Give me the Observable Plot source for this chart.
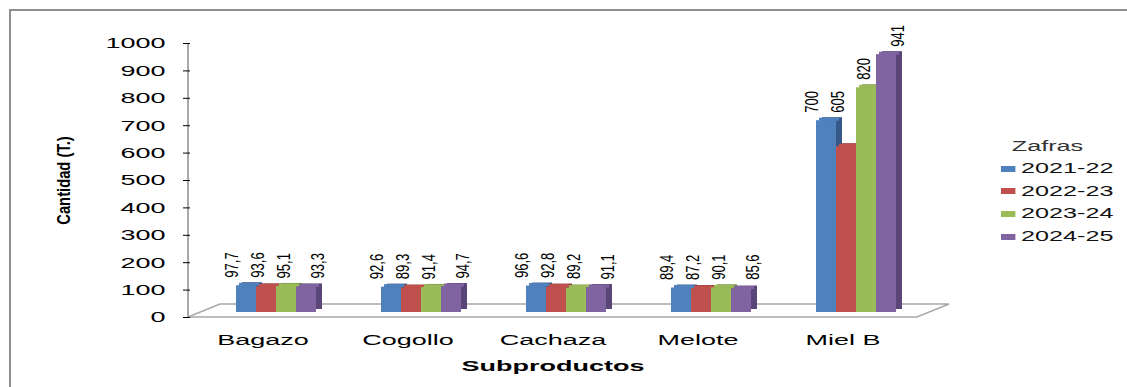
<!DOCTYPE html>
<html>
<head>
<meta charset="utf-8">
<script src="https://cdn.jsdelivr.net/npm/d3@7"></script>
<script src="https://cdn.jsdelivr.net/npm/@observablehq/plot@0.6"></script>
<style>
  html, body { margin: 0; padding: 0; background: #fff; }
  #wrap { position: relative; width: 1127px; height: 387px; overflow: hidden; font-family: "Liberation Sans", Arial, sans-serif; }
  #chart { position: absolute; left: 0; top: 0; }
  #border { position: absolute; left: 9px; top: 9px; right: -5px; bottom: -5px; border-left: 2px solid #8e8e8e; border-top: 2px solid #8e8e8e; pointer-events: none; }
  #legend { position: absolute; left: 1001px; top: 136px; transform: scaleX(1.8); transform-origin: 0 0; font-size: 14px; color: #111; white-space: nowrap; }
  #legend .title { line-height: 21px; padding-left: 6px; color: #333; }
  #legend .row { line-height: 22.7px; }
  #legend .sw { display: inline-block; width: 8.3px; height: 6px; vertical-align: 1.5px; margin-right: 2.8px; }
</style>
</head>
<body>
<div id="wrap">
  <div id="chart"></div>
  <div id="border"></div>
  <div id="legend"></div>
</div>
<script>
// ---- Data ----
const categorias = ["Bagazo", "Cogollo", "Cachaza", "Melote", "Miel B"];
const zafras = ["2021-22", "2022-23", "2023-24", "2024-25"];
const v2021_22 = [97.7, 92.6, 96.6, 89.4, 700];
const v2022_23 = [93.6, 89.3, 92.8, 87.2, 605];
const v2023_24 = [95.1, 91.4, 89.2, 90.1, 820];
const v2024_25 = [93.3, 94.7, 91.1, 85.6, 941];
const yTicks = [0, 100, 200, 300, 400, 500, 600, 700, 800, 900, 1000];
const tituloY = "Cantidad (T.)";
const tituloX = "Subproductos";
const tituloLeyenda = "Zafras";

// ---- Styles ----
const colores = ["#4F81BD", "#C0504D", "#9BBB59", "#8064A2"];
const coloresLado = ["#36598A", "#8E3532", "#6F8A3C", "#5A4578"];
const labelDx = [-14, -8, -2, 12];
const STRETCH = 1.8;     // horizontal text is drawn wide
const baseFont = "'Liberation Sans', Arial, sans-serif";

const series = [v2021_22, v2022_23, v2023_24, v2024_25];
const data = [];
categorias.forEach((c, i) => zafras.forEach((z, j) => data.push({
  cat: c, zafra: z, value: series[j][i],
  // a label sits above its bar, or above the taller bar to its left so it does not collide
  nivel: j > 0 ? Math.max(series[j][i], series[j - 1][i]) : series[j][i]
})));
const fmt = v => Number.isInteger(v) ? String(v) : String(v).replace(".", ",");

const barDx = 13, barDy = -5;

const marks = [];
zafras.forEach((z, j) => {
  marks.push(Plot.barY(data.filter(d => d.zafra === z), {fx: "cat", x: "zafra", y: "value", fill: coloresLado[j], dx: barDx + 6, dy: barDy - 3}));
});
marks.push(Plot.tickY(data, {fx: "cat", x: "zafra", y: "value", stroke: "zafra", strokeWidth: 3, dx: barDx + 3, dy: barDy - 1.5}));
marks.push(Plot.barY(data, {fx: "cat", x: "zafra", y: "value", fill: "zafra", dx: barDx, dy: barDy}));
zafras.forEach((z, j) => {
  marks.push(Plot.text(data.filter(d => d.zafra === z), {
    fx: "cat", x: "zafra", y: "nivel", text: d => fmt(d.value),
    rotate: -90, textAnchor: "start", dx: barDx + labelDx[j], dy: barDy - 8,
    fontSize: 16.5, fontFamily: baseFont, fill: "#000", className: "vlabel"
  }));
});

const chart = Plot.plot({
  width: 1127,
  height: 387,
  marginLeft: 188,
  marginRight: 210,
  marginTop: 43,
  marginBottom: 70,
  style: {fontFamily: baseFont, fontSize: "15px", color: "#000", background: "transparent", overflow: "visible"},
  fx: {domain: categorias, padding: 0, axis: "bottom", tickSize: 0, tickPadding: 17, label: tituloX, labelAnchor: "center", labelOffset: 53, labelArrow: "none"},
  x: {domain: zafras, paddingInner: 0, paddingOuter: 1.556, axis: null},
  y: {domain: [0, 1000], ticks: yTicks, tickFormat: d => String(d), tickSize: 7, tickPadding: 18, label: tituloY, labelAnchor: "center", labelOffset: 133, labelArrow: "none"},
  color: {domain: zafras, range: colores},
  marks
});

document.getElementById("chart").appendChild(chart);

// ---- post styling ----
const svg = d3.select(chart);
const ys = chart.scale("y"), fxs = chart.scale("fx");
const y0 = ys.apply(0), yTop = ys.apply(1000);
const [xl, xr] = fxs.range;
const depthX = 32, depthY = -13;
const floor = svg.insert("g", "g");
floor.append("path")
  .attr("d", `M${xl},${y0}L${xr},${y0}L${xr + depthX},${y0 + depthY}L${xl + depthX},${y0 + depthY}Z`)
  .attr("fill", "none").attr("stroke", "#a8a8a8").attr("stroke-width", 1.5);
floor.append("path")
  .attr("d", `M${xl},${y0}V${yTop}`)
  .attr("fill", "none").attr("stroke", "#8c8c8c").attr("stroke-width", 1.5);

chart.querySelectorAll('[aria-label="y-axis tick"], [aria-label="y-axis"] .tick line').forEach(e => e.setAttribute("stroke", "#8c8c8c"));

chart.querySelectorAll('[aria-label="y-axis label"] text, [aria-label="y-axis"] .label').forEach(t => {
  t.style.fontSize = "18px"; t.style.fontWeight = "bold";
});
chart.querySelectorAll('[aria-label="fx-axis label"] text, [aria-label="fx-axis"] .label').forEach(t => {
  t.style.fontWeight = "bold";
});

// horizontal text is wide, rotated text is narrow
chart.querySelectorAll("text").forEach(t => {
  const tr = t.getAttribute("transform") || "";
  const ptr = (t.parentNode.getAttribute && t.parentNode.getAttribute("transform")) || "";
  if (/rotate/.test(tr)) {
    const isValue = !!t.closest(".vlabel");
    t.setAttribute("transform", `${tr} scale(${isValue ? "0.79,1.08" : "0.82,1"})`);
    return;
  }
  if (/rotate/.test(ptr)) return;
  const x = +(t.getAttribute("x") || 0);
  t.setAttribute("transform", `${tr} translate(${x},0) scale(${STRETCH},1) translate(${-x},0)`);
});

// legend
const lg = document.getElementById("legend");
const tt = document.createElement("div"); tt.className = "title"; tt.textContent = tituloLeyenda; lg.appendChild(tt);
zafras.forEach((z, j) => {
  const r = document.createElement("div"); r.className = "row";
  const s = document.createElement("span"); s.className = "sw"; s.style.background = colores[j];
  r.appendChild(s); r.appendChild(document.createTextNode(z)); lg.appendChild(r);
});
</script>
</body>
</html>
